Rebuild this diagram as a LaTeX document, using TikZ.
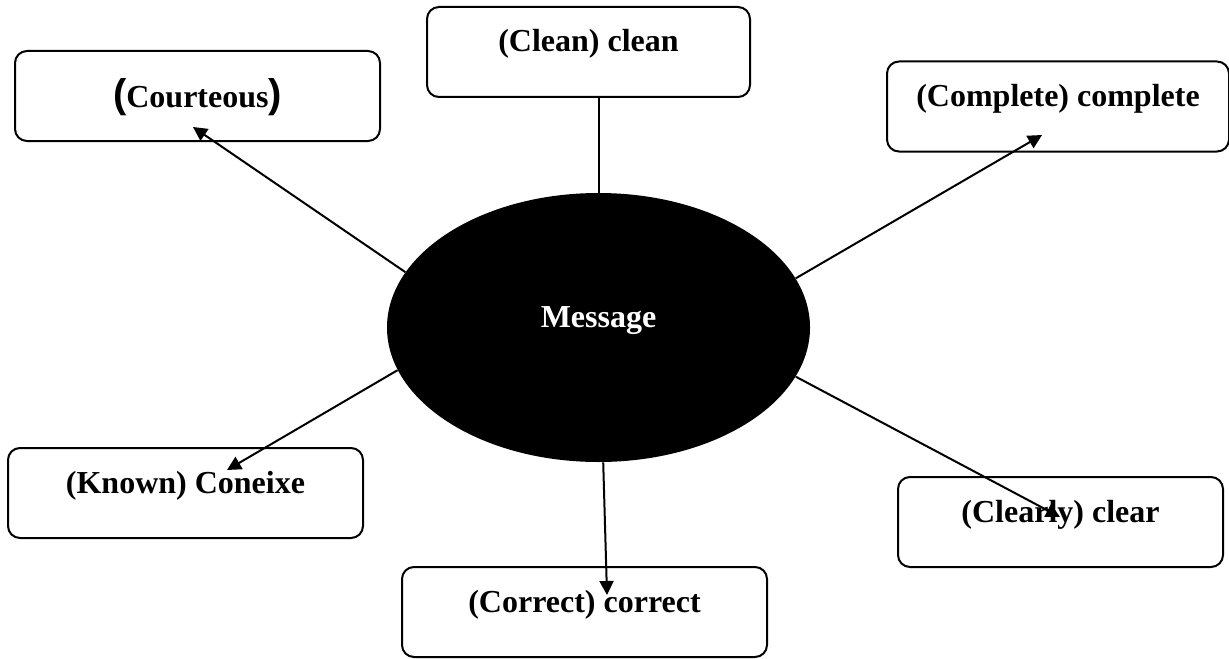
\documentclass[tikz,border=0pt]{standalone}
\usepackage{fontspec}
\setmainfont{Liberation Serif}
\newfontfamily\parenfont{Liberation Sans}
\usetikzlibrary{shapes.geometric, arrows.meta}
\newcommand{\bigparen}[1]{{\parenfont\fontsize{20}{20}\selectfont #1}}

\begin{document}
\begin{tikzpicture}[x=0.5pt, y=-0.5pt,
    box/.style={draw, line width=1pt, rounded corners=6pt, minimum height=45pt,
        inner ysep=0pt, text height=22.5pt, text depth=22.5pt,
        font=\fontsize{16}{18}\selectfont\bfseries},
    link/.style={line width=1pt},
    tip/.style={link, -{Triangle[length=7pt, width=7pt]}}]
    \useasboundingbox (0,0) rectangle (1229,658);
    \node[ellipse, fill=black, minimum width=211.5pt, minimum height=134.5pt,
        inner sep=0pt, text=white, text height=10pt, text depth=10pt,
        font=\fontsize{16}{18}\selectfont\bfseries] (msg) at (598.5,327.5) {Message};
    \node[box, minimum width=182.5pt, text height=28pt, text depth=17pt] (courteous) at (197.5,96)
        {\bigparen{(}Courteous\bigparen{)}};
    \node[box, minimum width=161.5pt] (clean) at (588.5,52) {(Clean) clean};
    \node[box, minimum width=171pt] (complete) at (1058,106.5) {(Complete) complete};
    \node[box, minimum width=177.5pt] (known) at (185.5,493) {(Known) Coneixe};
    \node[box, minimum width=162.5pt] (clearly) at (1060.5,522) {(Clearly) clear};
    \node[box, minimum width=182.5pt] (correct) at (584.5,612) {(Correct) correct};
    \coordinate (courteousTip) at (193,127);
    \coordinate (completeTip) at (1042,135);
    \coordinate (knownTip) at (227,470);
    \coordinate (clearlyTip) at (1060,517);
    \coordinate (correctTip) at (607,595);
    \draw[tip] (msg.164) -- (courteousTip);
    \draw[link] (msg.north) -- (msg.north |- clean.south);
    \draw[tip] (msg.14) -- (completeTip);
    \draw[tip] (msg.192.6) -- (knownTip);
    \draw[tip] (msg.-14.3) -- (clearlyTip);
    \draw[tip] (msg.-88) -- (correctTip);
\end{tikzpicture}
\end{document}
